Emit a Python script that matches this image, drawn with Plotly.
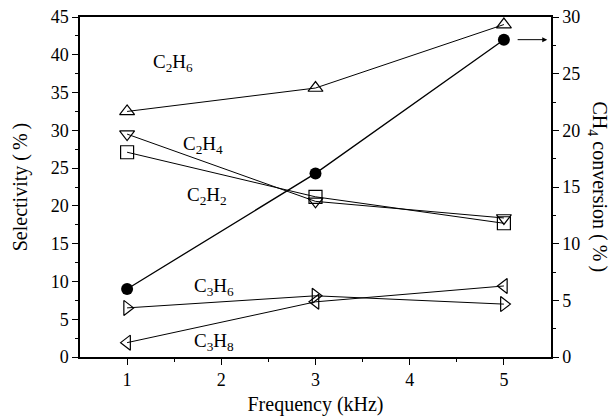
import plotly.graph_objects as go

# Discharge frequency (kHz)
frequency = [1, 3, 5]

# Product selectivity (%)
sel_c2h6 = [32.5, 35.6, 44.0]
sel_c2h4 = [29.5, 20.6, 18.4]
sel_c2h2 = [27.1, 21.2, 17.7]
sel_c3h6 = [6.5, 8.1, 7.0]
sel_c3h8 = [1.9, 7.3, 9.4]

# Methane conversion (%), right axis
ch4_conv = [6.0, 16.2, 28.0]

FONT = "Liberation Serif, Times New Roman, serif"
tick_font = dict(family=FONT, size=18, color="black")
title_font = dict(family=FONT, size=20, color="black")

fig = go.Figure()

series = [
    (sel_c2h6, "triangle-up-open", "C2H6"),
    (sel_c2h4, "triangle-down-open", "C2H4"),
    (sel_c2h2, "square-open", "C2H2"),
    (sel_c3h6, "triangle-right-open", "C3H6"),
    (sel_c3h8, "triangle-left-open", "C3H8"),
]
for vals, sym, name in series:
    fig.add_trace(go.Scatter(
        x=frequency, y=vals, mode="lines+markers", name=name,
        line=dict(color="black", width=1),
        marker=dict(symbol=sym, size=13, color="black", line=dict(width=1.2, color="black")),
        showlegend=False,
    ))

fig.add_trace(go.Scatter(
    x=frequency, y=ch4_conv, mode="lines+markers", name="CH4 conversion",
    yaxis="y2",
    line=dict(color="black", width=1.3),
    marker=dict(symbol="circle", size=12, color="black"),
    showlegend=False,
))

# Species labels
labels = [
    (1.49, 38.9, "C<sub>2</sub>H<sub>6</sub>"),
    (1.81, 28.1, "C<sub>2</sub>H<sub>4</sub>"),
    (1.85, 21.3, "C<sub>2</sub>H<sub>2</sub>"),
    (1.92, 9.3, "C<sub>3</sub>H<sub>6</sub>"),
    (1.92, 2.0, "C<sub>3</sub>H<sub>8</sub>"),
]
annotations = [
    dict(x=x, y=y, xref="x", yref="y", text=t, showarrow=False,
         font=dict(family=FONT, size=19, color="black"))
    for x, y, t in labels
]

# Arrow pointing the conversion curve to the right axis
annotations.append(dict(
    x=5.46, y=42, xref="x", yref="y", ax=5.13, ay=42, axref="x", ayref="y",
    text="", showarrow=True, arrowhead=2, arrowsize=1, arrowwidth=1, arrowcolor="black",
))

# Right axis title, reading top to bottom
annotations.append(dict(
    x=1.0, y=0.5, xref="paper", yref="paper", xanchor="left", yanchor="middle",
    xshift=33, text="CH<sub>4</sub> conversion (\u2009%\u2009)", textangle=90, showarrow=False,
    font=title_font,
))

fig.update_layout(
    width=614, height=420,
    margin=dict(l=80, r=63, t=17, b=63),
    paper_bgcolor="white", plot_bgcolor="white",
    font=dict(family=FONT, size=18, color="black"),
    xaxis=dict(
        range=[0.5, 5.5], tickvals=[1, 2, 3, 4, 5], tickfont=tick_font,
        ticks="outside", ticklen=6, tickwidth=1.2, tickcolor="black",
        minor=dict(tickvals=[1.5, 2.5, 3.5, 4.5], ticks="outside", ticklen=3, tickcolor="black"),
        showline=True, linecolor="black", linewidth=1.5, mirror=True,
        showgrid=False, zeroline=False, automargin=False,
        title=dict(text="Frequency (kHz)", font=title_font, standoff=8),
    ),
    yaxis=dict(
        range=[0, 45], tickvals=list(range(0, 46, 5)), tickfont=tick_font,
        ticks="outside", ticklen=6, tickwidth=1.2, tickcolor="black",
        minor=dict(tickvals=[2.5 + 5 * i for i in range(9)], ticks="outside", ticklen=3, tickcolor="black"),
        showline=True, linecolor="black", linewidth=1.5,
        showgrid=False, zeroline=False, automargin=False,
        title=dict(text="Selectivity (\u2009%\u2009)", font=title_font, standoff=18),
    ),
    yaxis2=dict(
        range=[0, 30], tickvals=list(range(0, 31, 5)), tickfont=tick_font,
        overlaying="y", side="right",
        ticks="outside", ticklen=6, tickwidth=1.2, tickcolor="black",
        minor=dict(tickvals=[2.5 + 5 * i for i in range(6)], ticks="outside", ticklen=3, tickcolor="black"),
        showline=True, linecolor="black", linewidth=1.5,
        showgrid=False, zeroline=False, automargin=False,
    ),
    annotations=annotations,
)

fig.write_html("out.html")
